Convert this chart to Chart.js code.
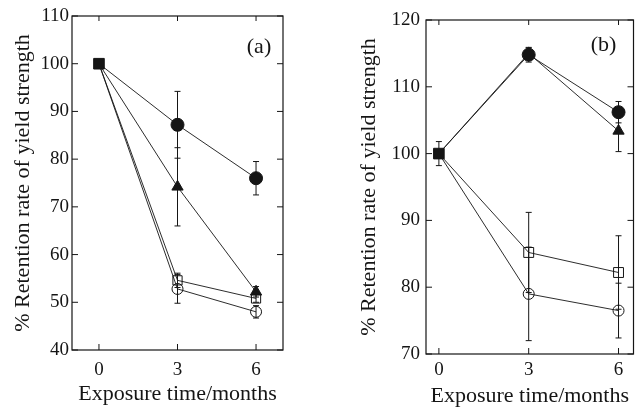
<!DOCTYPE html>
<html>
<head>
<meta charset="utf-8">
<script src="https://cdn.jsdelivr.net/npm/chart.js@4"></script>
<style>
  body { margin: 0; background: #fff; }
  #wrap { position: relative; width: 642px; height: 408px; }
  .panel { position: absolute; top: 0; height: 408px; }
</style>
</head>
<body>
<div id="wrap">
  <div class="panel" style="left:0;width:320px"><canvas id="chartA"></canvas></div>
  <div class="panel" style="left:320px;width:322px"><canvas id="chartB"></canvas></div>
</div>
<script>
const months = [0, 3, 6];
const startValue = [100];

// panel (a)
const aFilledCircle = [100, 87.2, 76.0];
const aFilledCircleErr = [0, 7.0, 3.5];
const aTriangle = [100, 74.2, 52.2];
const aTriangleErr = [0, 8.2, 1.1];
const aOpenSquare = [100, 54.6, 50.8];
const aOpenSquareErr = [0, 1.5, 0.8];
const aOpenCircle = [100, 52.8, 48.0];
const aOpenCircleErr = [0, 3.0, 1.3];
const aStartErr = [0];

// panel (b)
const bFilledCircle = [100, 114.8, 106.2];
const bFilledCircleErr = [0, 1.1, 1.6];
const bTriangle = [100, 115.0, 103.4];
const bTriangleErr = [0, 0.8, 3.1];
const bOpenSquare = [100, 85.2, 82.2];
const bOpenSquareErr = [0, 6.0, 5.5];
const bOpenCircle = [100, 79.0, 76.5];
const bOpenCircleErr = [0, 7.0, 4.1];
const bStartErr = [1.8];

const INK = '#151515';
const FONT = 'Liberation Serif';

function toPoints(values) {
  return values.map((v, i) => ({ x: months[i], y: v }));
}

function series(values, errors, style, radius, filled) {
  return {
    data: toPoints(values),
    errors: errors,
    showLine: true,
    borderColor: INK,
    borderWidth: 0.9,
    pointStyle: style,
    pointRadius: values.map((v, i) => i === 0 ? 0 : radius),
    pointBorderColor: INK,
    pointBorderWidth: 1,
    pointBackgroundColor: filled ? INK : 'rgba(0,0,0,0)'
  };
}

function startPoint(errors) {
  return {
    data: toPoints(startValue),
    errors: errors,
    showLine: false,
    pointStyle: 'rect',
    pointRadius: 7.5,
    pointBorderColor: INK,
    pointBorderWidth: 1,
    pointBackgroundColor: INK
  };
}

const deco = {
  id: 'deco',
  beforeDatasetsDraw(chart) {
    const { ctx, scales: { x, y } } = chart;
    ctx.save();
    ctx.strokeStyle = INK;
    ctx.lineWidth = 1;
    chart.data.datasets.forEach(ds => {
      if (!ds.errors) return;
      ds.data.forEach((p, j) => {
        const e = ds.errors[j];
        if (!e) return;
        const px = x.getPixelForValue(p.x);
        const top = y.getPixelForValue(p.y + e);
        const bot = y.getPixelForValue(p.y - e);
        ctx.beginPath();
        ctx.moveTo(px, top); ctx.lineTo(px, bot);
        ctx.moveTo(px - 3, top); ctx.lineTo(px + 3, top);
        ctx.moveTo(px - 3, bot); ctx.lineTo(px + 3, bot);
        ctx.stroke();
      });
    });
    ctx.restore();
  },
  afterDraw(chart, args, opts) {
    const { ctx, chartArea: a, scales: { x, y } } = chart;
    ctx.save();
    ctx.strokeStyle = INK;
    ctx.lineWidth = 1.2;
    ctx.strokeRect(a.left, a.top, a.right - a.left, a.bottom - a.top);
    ctx.lineWidth = 1;
    ctx.beginPath();
    y.ticks.forEach(t => {
      const py = y.getPixelForValue(t.value);
      ctx.moveTo(a.left, py); ctx.lineTo(a.left + 6, py);
      ctx.moveTo(a.right, py); ctx.lineTo(a.right - 6, py);
    });
    x.ticks.forEach(t => {
      const px = x.getPixelForValue(t.value);
      ctx.moveTo(px, a.bottom); ctx.lineTo(px, a.bottom - 6);
      ctx.moveTo(px, a.top); ctx.lineTo(px, a.top + 5);
    });
    ctx.stroke();
    ctx.fillStyle = INK;
    ctx.font = '22px "' + FONT + '"';
    ctx.textAlign = 'center';
    ctx.textBaseline = 'middle';
    ctx.fillText(opts.label, a.right - opts.dx, a.top + opts.dy);
    ctx.restore();
  }
};

function makeChart(id, cfg) {
  return new Chart(document.getElementById(id), {
    type: 'scatter',
    data: { datasets: cfg.datasets },
    options: {
      responsive: true,
      maintainAspectRatio: false,
      animation: false,
      layout: { padding: cfg.padding },
      plugins: {
        legend: { display: false },
        tooltip: { enabled: false },
        deco: { label: cfg.label, dx: cfg.labelDx, dy: cfg.labelDy }
      },
      scales: {
        x: {
          type: 'linear',
          min: cfg.xMin,
          max: cfg.xMax,
          afterBuildTicks: s => { s.ticks = months.map(v => ({ value: v })); },
          afterFit: s => { s.height = cfg.xHeight; },
          grid: { display: false, drawTicks: false },
          border: { display: false },
          ticks: { color: INK, font: { family: FONT, size: 19 }, padding: cfg.xTickPad },
          title: {
            display: true,
            text: 'Exposure time/months',
            color: INK,
            font: { family: FONT, size: 22, lineHeight: 1 },
            padding: { top: 0, bottom: cfg.xTitlePad }
          }
        },
        y: {
          min: cfg.yMin,
          max: cfg.yMax,
          afterFit: s => { s.width = cfg.yWidth; },
          grid: { display: false, drawTicks: false },
          border: { display: false },
          ticks: { stepSize: 10, color: INK, font: { family: FONT, size: 19 }, padding: cfg.yTickPad },
          title: {
            display: true,
            text: '% Retention rate of yield strength',
            color: INK,
            font: { family: FONT, size: 22, lineHeight: 1 },
            padding: { top: cfg.yTitlePad, bottom: 0 }
          }
        }
      }
    },
    plugins: [deco]
  });
}

makeChart('chartA', {
  datasets: [
    startPoint(aStartErr),
    series(aFilledCircle, aFilledCircleErr, 'circle', 6.5, true),
    series(aTriangle, aTriangleErr, 'triangle', 6.5, true),
    series(aOpenSquare, aOpenSquareErr, 'rect', 6.5, false),
    series(aOpenCircle, aOpenCircleErr, 'circle', 5.5, false)
  ],
  padding: { left: 0, right: 37, top: 16, bottom: 0 },
  xMin: -1.03, xMax: 7.03, yMin: 40, yMax: 110,
  xHeight: 58, yWidth: 72,
  xTickPad: 9, yTickPad: 3, xTitlePad: 3, yTitlePad: 12,
  label: '(a)', labelDx: 24, labelDy: 31
});

makeChart('chartB', {
  datasets: [
    startPoint(bStartErr),
    series(bFilledCircle, bFilledCircleErr, 'circle', 6.5, true),
    series(bTriangle, bTriangleErr, 'triangle', 6.5, true),
    series(bOpenSquare, bOpenSquareErr, 'rect', 7, false),
    series(bOpenCircle, bOpenCircleErr, 'circle', 5.5, false)
  ],
  padding: { left: 0, right: 7, top: 20, bottom: 0 },
  xMin: -0.43, xMax: 6.5, yMin: 70, yMax: 120,
  xHeight: 54, yWidth: 106,
  xTickPad: 5, yTickPad: 6, xTitlePad: 1, yTitlePad: 38,
  label: '(b)', labelDx: 30, labelDy: 25
});
</script>
</body>
</html>
